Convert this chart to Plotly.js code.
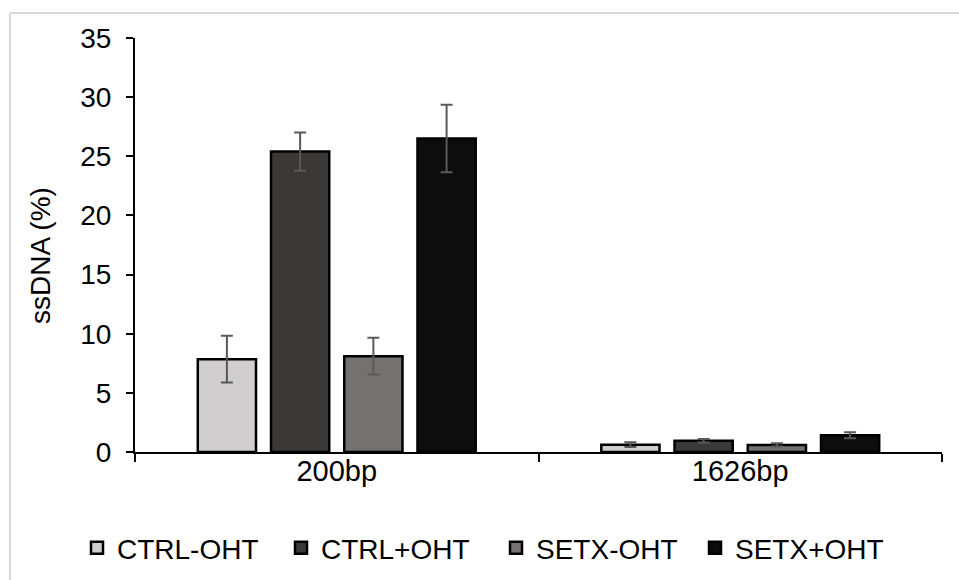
<!DOCTYPE html>
<html>
<head>
<meta charset="utf-8">
<script src="https://cdn.plot.ly/plotly-3.0.1.min.js"></script>
<style>html,body{margin:0;padding:0;background:#fff;}#chart{width:959px;height:580px;}</style>
</head>
<body>
<div id="chart"></div>
<script>
var categories = ["200bp", "1626bp"];
var seriesNames = ["CTRL-OHT", "CTRL+OHT", "SETX-OHT", "SETX+OHT"];
var ctrlMinus = [7.85, 0.62];
var ctrlMinusErr = [1.97, 0.2];
var ctrlPlus = [25.4, 0.95];
var ctrlPlusErr = [1.62, 0.15];
var setxMinus = [8.1, 0.6];
var setxMinusErr = [1.55, 0.13];
var setxPlus = [26.5, 1.42];
var setxPlusErr = [2.85, 0.25];
var yTicks = [0, 5, 10, 15, 20, 25, 30, 35];
var yTitle = "ssDNA (%)";

var colors = ["#d0cece", "#3b3838", "#767171", "#0d0d0d"];
var values = [ctrlMinus, ctrlPlus, setxMinus, setxPlus];
var errs = [ctrlMinusErr, ctrlPlusErr, setxMinusErr, setxPlusErr];
var legendWidths = [159, 170, 154, null];
var FONT = "Arial, 'Liberation Sans', sans-serif";

var data = seriesNames.map(function (name, i) {
  var t = {
    type: "bar",
    name: name,
    x: categories,
    y: values[i],
    marker: { color: colors[i], line: { color: "#000000", width: 2.5 } },
    error_y: { type: "data", array: errs[i], visible: true, color: "#595959", thickness: 2, width: 6 },
    hoverinfo: "skip"
  };
  if (legendWidths[i]) t.legendwidth = legendWidths[i];
  return t;
});

var layout = {
  width: 959,
  height: 580,
  margin: { l: 135, r: 17, t: 38, b: 128, pad: 0 },
  paper_bgcolor: "#ffffff",
  plot_bgcolor: "#ffffff",
  font: { family: FONT, color: "#000000" },
  barmode: "group",
  bargap: 0.274,
  bargroupgap: 0.205,
  showlegend: true,
  legend: {
    orientation: "h",
    xref: "container",
    yref: "container",
    x: 0.0803,
    xanchor: "left",
    y: 0.0552,
    yanchor: "middle",
    font: { size: 28, family: FONT, color: "#000000" },
    itemwidth: 30,
    traceorder: "normal"
  },
  xaxis: {
    type: "category",
    range: [-0.5, 1.5],
    showline: true,
    linecolor: "#000000",
    linewidth: 2,
    ticks: "outside",
    tickson: "boundaries",
    ticklen: 8,
    tickwidth: 2,
    tickcolor: "#000000",
    ticklabelstandoff: -8,
    tickfont: { size: 29, family: FONT, color: "#000000" },
    showgrid: false,
    zeroline: false,
    automargin: false,
    fixedrange: true
  },
  yaxis: {
    range: [0, 35],
    tickvals: yTicks,
    ticktext: yTicks.map(String),
    showline: true,
    linecolor: "#000000",
    linewidth: 2,
    ticks: "outside",
    ticklen: 7,
    tickwidth: 2,
    tickcolor: "#000000",
    ticklabelstandoff: 9,
    tickfont: { size: 28, family: FONT, color: "#000000" },
    showgrid: false,
    zeroline: false,
    automargin: false,
    fixedrange: true
  },
  annotations: [
    {
      text: yTitle,
      xref: "paper", yref: "paper",
      x: -0.1177, y: 0.4734,
      xanchor: "center", yanchor: "middle",
      textangle: -90,
      showarrow: false,
      font: { size: 28, family: FONT, color: "#000000" }
    }
  ],
  shapes: [
    { type: "line", xref: "paper", yref: "paper", x0: -0.1549, x1: -0.1549, y0: -0.5, y1: 1.0605, line: { color: "#d9d9d9", width: 2 } },
    { type: "line", xref: "paper", yref: "paper", x0: -0.1549, x1: 1.1, y0: 1.0605, y1: 1.0605, line: { color: "#d9d9d9", width: 2 } }
  ]
};

Plotly.newPlot("chart", data, layout, { displayModeBar: false, staticPlot: true });
</script>
</body>
</html>
